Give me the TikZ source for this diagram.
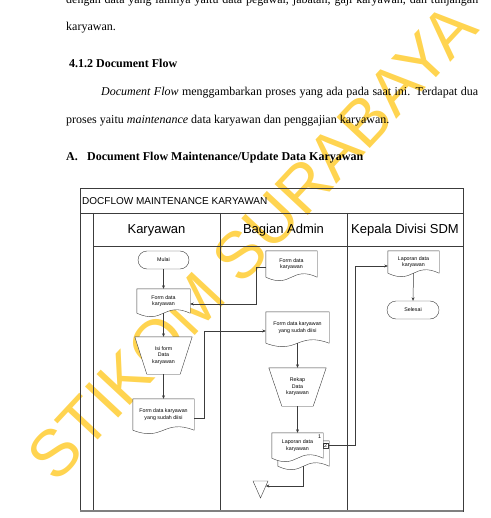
\documentclass[tikz,border=0pt]{standalone}
\usepackage{fontspec}
\setmainfont{Liberation Serif}
\newfontfamily\arialfont{Liberation Sans}
\usetikzlibrary{calc,arrows.meta}

\pgfdeclarelayer{wmark}
\pgfdeclarelayer{shapes}
\pgfsetlayers{wmark,shapes,main}

\definecolor{wmyellow}{RGB}{255,212,80}
\definecolor{laneline}{RGB}{60,60,60}

\tikzset{
  para/.style={anchor=base west, inner sep=0pt, font=\fontsize{12}{14}\selectfont},
  lane/.style={draw=laneline, line width=0.7pt},
  small/.style={font=\arialfont\fontsize{5.3}{6.6}\selectfont, align=center, inner sep=0pt},
  docu/.style={small, minimum width=#1},
  termin/.style={small, draw=laneline, fill=white, rounded corners=9pt, minimum width=51pt, minimum height=18pt},
  flow/.style={->, draw=laneline, line width=0.5pt}
}

% document outline with wavy bottom, behind the text
\newcommand{\docout}[1]{%
  \begin{pgfonlayer}{shapes}
    \draw[laneline, fill=white] (#1.north west) -- (#1.north east) -- (#1.south east)
      .. controls ($(#1.south)+(0,-12)$) and ($(#1.south)+(0,12)$) .. (#1.south west) -- cycle;
  \end{pgfonlayer}}
% manual operation
\newcommand{\manop}[2]{%
  \begin{pgfonlayer}{shapes}
    \draw[laneline, fill=white] (#1.north west) -- (#1.north east)
      -- ($(#1.south east)+(-#2,0)$) -- ($(#1.south west)+(#2,0)$) -- cycle;
  \end{pgfonlayer}}

\begin{document}
\begin{tikzpicture}[x=1pt, y=-1pt, >={Stealth[length=3.5pt,width=3pt]}]
  \useasboundingbox (0,0) rectangle (490,518);
  \clip (0,0) rectangle (490,518);

  % page text
  \node[para] (l1) at (66,4) {\makebox[412pt][s]{dengan data yang lainnya yaitu data pegawai, jabatan, gaji karyawan, dan tunjangan}};
  \node[para] (l2) at (66,31) {karyawan.};
  \node[para, font=\fontsize{12}{14}\selectfont\bfseries] (sub) at (69,68) {4.1.2 Document Flow};
  \node[para] (l3) at (101,96) {\makebox[377pt][s]{\textit{Document Flow} menggambarkan proses yang ada pada saat ini. Terdapat dua}};
  \node[para] (l4) at (66,124) {proses yaitu \textit{maintenance} data karyawan dan penggajian karyawan.};
  \node[para, font=\fontsize{12}{14}\selectfont\bfseries] (hA) at (66,161) {A.};
  \node[para, font=\fontsize{12}{14}\selectfont\bfseries] (hAt) at (87,161) {Document Flow Maintenance/Update Data Karyawan};

  % watermark
  \begin{pgfonlayer}{wmark}
    \node[rotate=47, text=wmyellow, font=\arialfont\fontsize{66}{66}\selectfont] (wm) at (252,242) {STIKOM SURABAYA};
  \end{pgfonlayer}

  % swimlanes
  \draw[lane] (80,188) rectangle (463,511);
  \draw[lane] (80,213) -- (463,213);
  \draw[lane] (93,213) -- (93,511);
  \draw[lane] (93,246) -- (463,246);
  \foreach \lx in {220,347} {
    \draw[lane] (\lx,213) -- (\lx,511);
  }
  \draw[lane, line width=1.3pt, draw=gray] (80,511) -- (463,511);

  \node[anchor=west, inner sep=0pt, font=\arialfont\fontsize{10}{12}\selectfont] (judul) at (82,201) {DOCFLOW MAINTENANCE KARYAWAN};
  \node[font=\arialfont\fontsize{13}{15}\selectfont] (hkar) at (156.5,230) {Karyawan};
  \node[font=\arialfont\fontsize{13}{15}\selectfont] (hadm) at (283.5,230) {Bagian Admin};
  \node[font=\arialfont\fontsize{13}{15}\selectfont] (hkep) at (405,230) {Kepala Divisi SDM};

  % Karyawan
  \node[termin] (mulai) at (163.5,260) {Mulai};
  \node[docu=53pt, minimum height=24pt] (kform) at (163.5,301) {Form data\\karyawan};
  \docout{kform}
  \node[docu=57pt, minimum height=37pt] (isi) at (163.5,355.5) {Isi form\\Data\\karyawan};
  \manop{isi}{12}
  \node[docu=61pt, minimum height=31pt] (kisi) at (163.5,414.5) {Form data karyawan\\yang sudah diisi};
  \docout{kisi}

  % Bagian Admin
  \node[docu=51pt, minimum height=26pt] (aform) at (291.5,264) {Form data\\karyawan};
  \docout{aform}
  \node[docu=63pt, minimum height=31pt] (aisi) at (297.5,327.5) {Form data karyawan\\yang sudah diisi};
  \docout{aisi}
  \node[docu=57pt, minimum height=38pt] (rekap) at (297.5,387) {Rekap\\Data\\karyawan};
  \manop{rekap}{13}
  \node[docu=51pt, minimum height=25pt] (laporb) at (303.5,453.5) {};
  \docout{laporb}
  \node[docu=51pt, minimum height=25pt] (lapor) at (297.5,445.5) {Laporan data\\karyawan};
  \docout{lapor}
  \node[small] (satu) at (319.5,437) {1};
  \node[small, draw=laneline, fill=white, minimum size=5pt, inner sep=0.5pt] (dua) at (325.5,445.5) {2};
  \draw[laneline, fill=white] (253,481) -- (268,481) -- (260.5,498) -- cycle;
  \coordinate (arsip) at (265.8,486);

  % Kepala Divisi SDM
  \node[docu=51pt, minimum height=22pt] (kdoc) at (413.5,262) {Laporan data\\karyawan};
  \docout{kdoc}
  \node[termin, minimum width=52pt] (selesai) at (413,310) {Selesai};

  % flows
  \draw[flow] (mulai.south) -- (kform.north);
  \draw[flow] ([yshift=-3pt]aform.west) -- ++(-10,0) |- ([yshift=-3pt]kform.east);
  \draw[flow] (kform.south) -- (isi.north);
  \draw[flow] (isi.south) -- (kisi.north);
  \draw[flow] ([yshift=-3.5pt]kisi.east) -- ++(10,0) |- ([yshift=-3.5pt]aisi.west);
  \draw[flow] (aisi.south) -- (rekap.north);
  \draw[flow] (rekap.south) -- (lapor.north);
  \draw[flow] (dua.east) -- ++(27,0) |- ([yshift=-4pt]kdoc.west);
  \draw[flow] (kdoc.south) -- (selesai.north);
  \draw[flow] (laporb.south) |- (arsip);
\end{tikzpicture}
\end{document}
